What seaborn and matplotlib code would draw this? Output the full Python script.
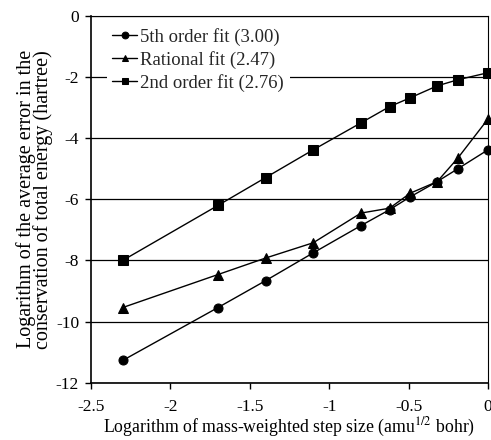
import pandas as pd
import matplotlib
matplotlib.use("Agg")
import matplotlib.pyplot as plt
import seaborn as sns

# log10 of mass-weighted step size
step_log = [-2.3, -1.7, -1.4, -1.1, -0.8, -0.62, -0.49, -0.32, -0.19, 0.0]

fifth_order = [-11.27, -9.54, -8.66, -7.75, -6.86, -6.34, -5.92, -5.42, -5.0, -4.38]
rational = [-9.54, -8.46, -7.92, -7.42, -6.45, -6.29, -5.8, -5.42, -4.65, -3.37]
second_order = [-8.0, -6.2, -5.29, -4.38, -3.5, -2.97, -2.68, -2.29, -2.09, -1.86]

series_names = ["5th order fit (3.00)", "Rational fit (2.47)", "2nd order fit (2.76)"]
series_markers = ["o", "^", "s"]

df = pd.concat([
    pd.DataFrame({"x": step_log, "y": vals, "fit": name})
    for name, vals in zip(series_names, [fifth_order, rational, second_order])
])

sns.set_theme(style="white")
plt.rcParams["font.family"] = ["Liberation Serif", "DejaVu Serif"]
plt.rcParams["mathtext.fontset"] = "stix"

fig = plt.figure(figsize=(4.91, 4.40), dpi=100)
ax = fig.add_axes([0.185, 0.13, 0.809, 0.834])

for name, mk in zip(series_names, series_markers):
    sub = df[df["fit"] == name]
    sns.lineplot(data=sub, x="x", y="y", ax=ax, color="black", marker=mk,
                 markersize=6.5, markeredgecolor="black", linewidth=1.0,
                 label=name, clip_on=False, zorder=3)

ax.set_xlim(-2.5, 0)
ax.set_ylim(-12, 0)
ax.set_xticks([-2.5, -2, -1.5, -1, -0.5, 0])
ax.set_xticklabels(["-2.5", "-2", "-1.5", "-1", "-0.5", "0"])
ax.set_yticks(range(-12, 1, 2))
ax.set_yticklabels([str(v) for v in range(-12, 1, 2)])
ax.tick_params(axis="both", direction="out", width=1, labelsize=12.5,
               color="black", labelcolor="black", left=True, bottom=True)
ax.tick_params(axis="x", length=4, pad=8)
ax.tick_params(axis="y", length=4.5, pad=4)

ax.yaxis.grid(True, color="black", linewidth=0.9)
ax.xaxis.grid(False)
ax.set_axisbelow(True)
for side in ["left", "bottom"]:
    ax.spines[side].set_linewidth(1.2)
    ax.spines[side].set_color("black")
for side in ["top", "right"]:
    ax.spines[side].set_linewidth(0.8)
    ax.spines[side].set_color("black")

ax.set_xlabel("Logarithm of mass-weighted step size (amu$^{1/2}$ bohr)",
              fontsize=12.8, color="black", labelpad=0)
ax.set_ylabel("Logarithm of the average error in the\nconservation of total energy (hartree)",
              fontsize=14.5, color="black", labelpad=2, linespacing=0.82)

leg = ax.legend(loc="upper left", bbox_to_anchor=(0.04, 0.982), frameon=True,
                fontsize=13.5, handlelength=1.3, handletextpad=0.2,
                borderaxespad=0, borderpad=0.3, labelspacing=0.26, markerscale=0.75)
leg.get_frame().set_facecolor("white")
leg.get_frame().set_edgecolor("none")
leg.get_frame().set_alpha(1.0)

fig.savefig("out.png", dpi=100)
